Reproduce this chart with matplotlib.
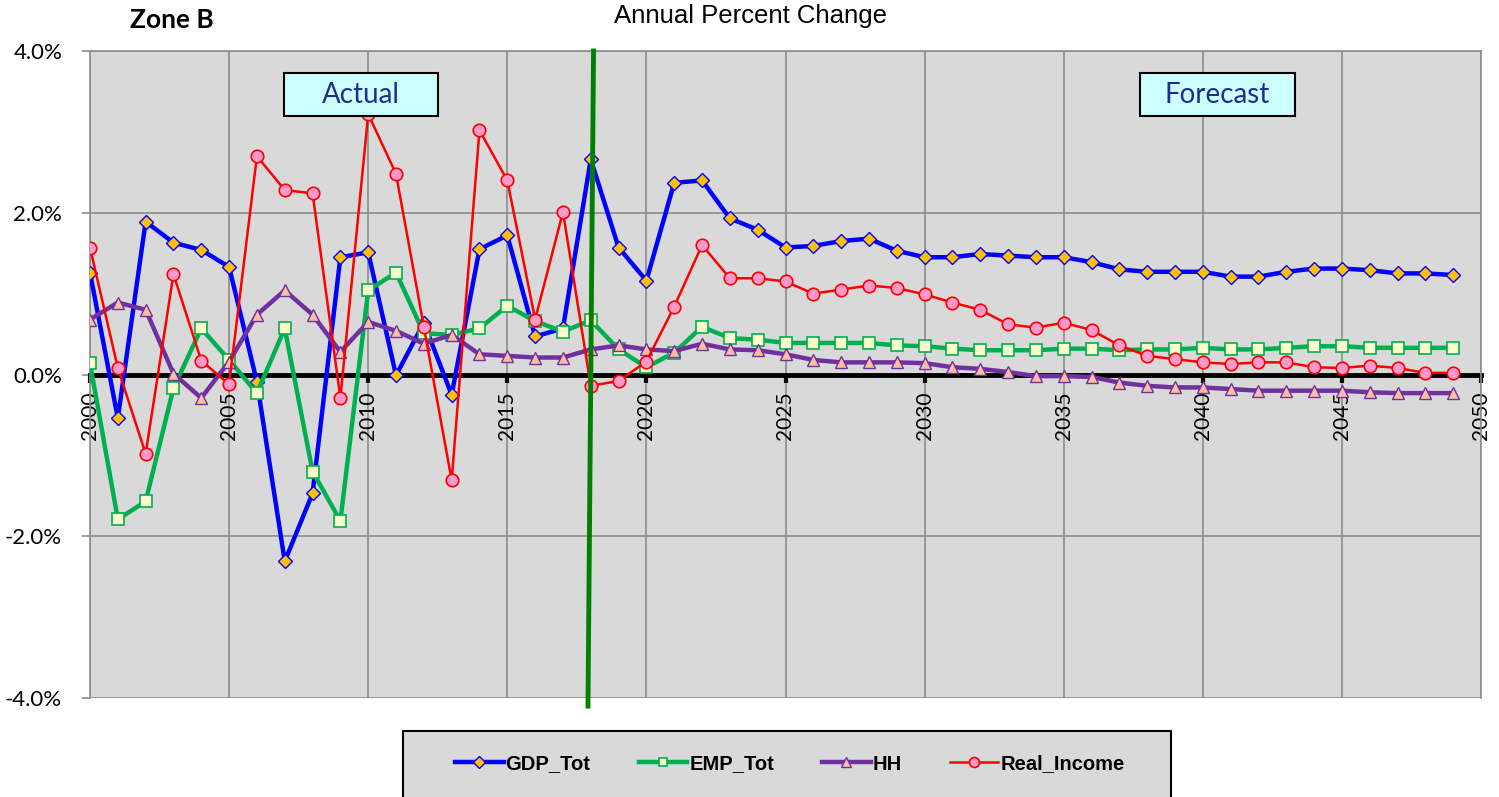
import numpy as np
import matplotlib
matplotlib.use('Agg')
import matplotlib.pyplot as plt
from matplotlib.patches import Rectangle
from matplotlib.ticker import FuncFormatter, MultipleLocator

# data (% change per year)
years = list(range(2000, 2050))

gdp_tot = [1.26, -0.54, 1.89, 1.63, 1.54, 1.33, -0.09, -2.31, -1.47, 1.45,
           1.51, -0.01, 0.64, -0.25, 1.55, 1.72, 0.47, 0.57, 2.66, 1.57,
           1.16, 2.37, 2.40, 1.93, 1.79, 1.57, 1.59, 1.65, 1.68, 1.53,
           1.45, 1.45, 1.49, 1.47, 1.45, 1.45, 1.39, 1.30, 1.27, 1.27,
           1.27, 1.21, 1.21, 1.27, 1.31, 1.31, 1.29, 1.25, 1.25, 1.23]

emp_tot = [0.14, -1.79, -1.57, -0.17, 0.57, 0.18, -0.23, 0.57, -1.20, -1.81,
           1.04, 1.26, 0.51, 0.49, 0.57, 0.85, 0.66, 0.53, 0.67, 0.31,
           0.09, 0.27, 0.59, 0.45, 0.43, 0.39, 0.39, 0.39, 0.39, 0.36,
           0.35, 0.32, 0.30, 0.30, 0.30, 0.32, 0.32, 0.30, 0.31, 0.31,
           0.33, 0.31, 0.31, 0.33, 0.35, 0.35, 0.33, 0.33, 0.33, 0.33]

hh = [0.68, 0.89, 0.80, 0.01, -0.29, 0.16, 0.74, 1.04, 0.74, 0.28,
      0.65, 0.54, 0.38, 0.49, 0.25, 0.23, 0.21, 0.21, 0.31, 0.36,
      0.31, 0.29, 0.38, 0.31, 0.30, 0.25, 0.18, 0.15, 0.15, 0.15,
      0.14, 0.09, 0.07, 0.03, -0.02, -0.02, -0.03, -0.10, -0.14, -0.16,
      -0.16, -0.18, -0.20, -0.20, -0.20, -0.20, -0.22, -0.23, -0.23, -0.23]

real_income = [1.57, 0.08, -0.98, 1.24, 0.17, -0.12, 2.70, 2.28, 2.24, -0.29,
               3.22, 2.48, 0.59, -1.31, 3.02, 2.40, 0.68, 2.01, -0.14, -0.08,
               0.16, 0.84, 1.60, 1.19, 1.19, 1.15, 1.00, 1.05, 1.10, 1.07,
               0.99, 0.89, 0.80, 0.62, 0.58, 0.64, 0.55, 0.36, 0.23, 0.19,
               0.15, 0.13, 0.15, 0.15, 0.09, 0.08, 0.11, 0.08, 0.02, 0.02]

# figuur
fig = plt.figure(figsize=(14.99, 7.97), dpi=100)
ax = fig.add_axes([90/1499, 1 - 698/797, (1481 - 90)/1499, (698 - 51)/797])
ax.set_facecolor('#D9D9D9')

ax.plot(years, gdp_tot, color='#0000FF', lw=3.2, marker='D', ms=7.5,
        mfc='#FFC000', mec='#0000FF', mew=1, label='GDP_Tot', zorder=3)
ax.plot(years, emp_tot, color='#00B050', lw=3.2, marker='s', ms=8,
        mfc='#FFFFCC', mec='#00B050', mew=1.2, label='EMP_Tot', zorder=3)
ax.plot(years, hh, color='#7030A0', lw=3.2, marker='^', ms=9,
        mfc='#FABF9F', mec='#7030A0', mew=1, label='HH', zorder=3)
ax.plot(years, real_income, color='#FF0000', lw=1.8, marker='o', ms=9,
        mfc='#FF99CC', mec='#FF0000', mew=1.2, label='Real_Income', zorder=3)

# scheidingslijn actual / forecast
ax.plot([2018.1, 2017.9], [4.0, -4.1], color='#008000', lw=3.5,
        clip_on=False, zorder=5)

# assen
ax.set_xlim(2000, 2050)
ax.set_ylim(-4, 4)
ax.xaxis.set_major_locator(MultipleLocator(5))
ax.yaxis.set_major_locator(MultipleLocator(2))
ax.yaxis.set_major_formatter(FuncFormatter(lambda v, p: f'{v:.1f}%'))
ax.grid(True, color='#8C8C8C', lw=1.2, zorder=0)
ax.set_axisbelow(True)

for s in ['top', 'right', 'left']:
    ax.spines[s].set_color('#8C8C8C')
    ax.spines[s].set_linewidth(1.2)
ax.spines['bottom'].set_position(('data', 0))
ax.spines['bottom'].set_color('black')
ax.spines['bottom'].set_linewidth(3.5)
ax.spines['bottom'].set_zorder(2)

ax.tick_params(axis='x', direction='out', length=6, width=3, color='black',
               labelsize=15, labelrotation=90, pad=6)
ax.tick_params(axis='y', length=6, width=1.2, color='#8C8C8C',
               labelsize=16, pad=14)
for lbl in ax.get_xticklabels() + ax.get_yticklabels():
    lbl.set_family('Lato')

# titels
fig.text(751/1499, 1 - 16/797, 'Annual Percent Change', ha='center', va='center',
         fontsize=18.5, family='Liberation Sans')
fig.text(172/1499, 1 - 20/797, 'Zone B', ha='center', va='center',
         fontsize=19, fontweight='bold', family='Lato')

# tekstvakken
for x0, x1, txt in [(2006.97, 2012.51, 'Actual'), (2037.74, 2043.31, 'Forecast')]:
    ax.add_patch(Rectangle((x0, 3.20), x1 - x0, 0.53, fc='#CCFFFF', ec='black',
                           lw=1.5, zorder=6))
    ax.text((x0 + x1) / 2, 3.46, txt, ha='center', va='center', fontsize=20,
            color='#1F2E8C', family='Lato', zorder=7)

# legenda
fig.patches.append(Rectangle((403/1499, -0.01), (1171 - 403)/1499, 0.01 + 1 - 731/797,
                             transform=fig.transFigure, fc='#D9D9D9', ec='black',
                             lw=1.5, zorder=0))
fig.legend(loc='center', bbox_to_anchor=(790/1499, 1 - 764/797), ncol=4,
           frameon=False, handlelength=2.4, columnspacing=2.4, handletextpad=0.1,
           prop={'family': 'Liberation Sans', 'weight': 'bold', 'size': 14.5},
           markerscale=0.8)

fig.savefig('out.png', dpi=100)
